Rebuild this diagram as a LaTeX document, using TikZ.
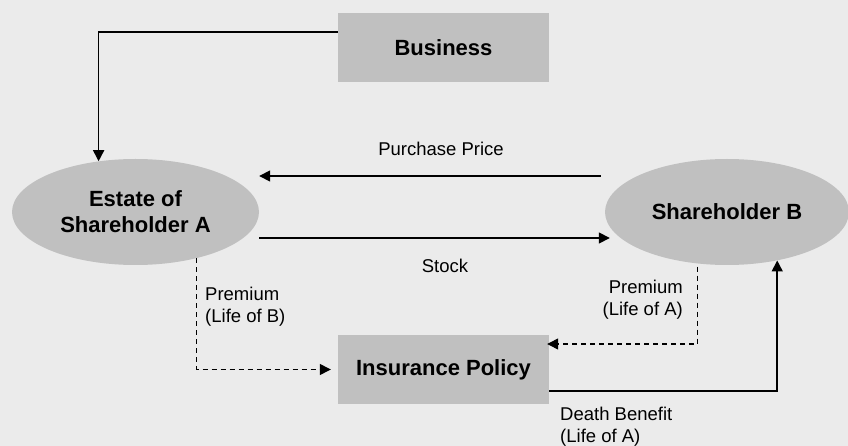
\documentclass[tikz,border=0pt]{standalone}
\usepackage{fontspec}
\setmainfont{Liberation Sans}
\usetikzlibrary{arrows.meta,shapes.geometric}
\definecolor{bg}{RGB}{235,235,235}
\definecolor{boxgray}{RGB}{192,192,192}
\tikzset{
  boxnode/.style={fill=boxgray,draw=none,minimum width=211pt,minimum height=69pt,inner sep=0pt,font=\fontsize{22}{26}\selectfont\bfseries},
  ellnode/.style={ellipse,fill=boxgray,draw=none,minimum width=247pt,minimum height=106pt,inner sep=0pt,align=center,font=\fontsize{22}{26}\selectfont\bfseries},
  lbl/.style={font=\fontsize{18.5}{22}\selectfont,inner sep=0pt},
  arr/.style={line width=1.6pt,-{Triangle[length=11pt,width=11pt]}},
  darr/.style={line width=1.3pt,dash pattern=on 5pt off 4pt,-{Triangle[length=11pt,width=11pt]}}
}
\begin{document}
\begin{tikzpicture}[x=1pt,y=-1pt]
\fill[bg] (0,0) rectangle (848,446);
\useasboundingbox (0,0) rectangle (848,446);
\node[boxnode] (bus) at (443.5,47.5) {Business};
\node[ellnode] (A) at (135.5,212) {Estate of\\Shareholder A};
\node[ellnode, minimum width=244pt] (B) at (727,212) {Shareholder B};
\node[boxnode] (ins) at (443.5,369.5) {Insurance Policy};
\coordinate (yPP) at (0,176);
\coordinate (yST) at (0,238);
\coordinate (yPR) at (0,344);
\coordinate (yDB) at (0,391);
% Business -> Estate
\draw[arr] ([yshift=15.5pt]bus.west) -| (A.126.6);
% Purchase price
\draw[arr,shorten <=4pt] (B.west |- yPP) -- (A.east |- yPP);
\node[lbl] (pp) at (441,149) {Purchase Price};
% Stock
\draw[arr,shorten >=-5pt] (A.east |- yST) -- (B.west |- yST);
\node[lbl] (st) at (445,266) {Stock};
% Premium life of B
\draw[darr,shorten >=7pt] (A.-37.4) |- (ins.west);
\node[lbl,anchor=west,align=left] (pb) at (205,307) {Premium\\(Life of B)};
% Premium life of A
\draw[darr,shorten <=3pt,shorten >=-2pt] (B.240.6) |- (ins.east |- yPR);
\node[lbl,anchor=east,align=right] (pa) at (683,300) {Premium\\(Life of A)};
% Death benefit
\draw[arr] (ins.east |- yDB) -| (B.-44.7);
\node[lbl,anchor=west,align=left] (db) at (560,426.5) {Death Benefit\\(Life of A)};
\end{tikzpicture}
\end{document}
